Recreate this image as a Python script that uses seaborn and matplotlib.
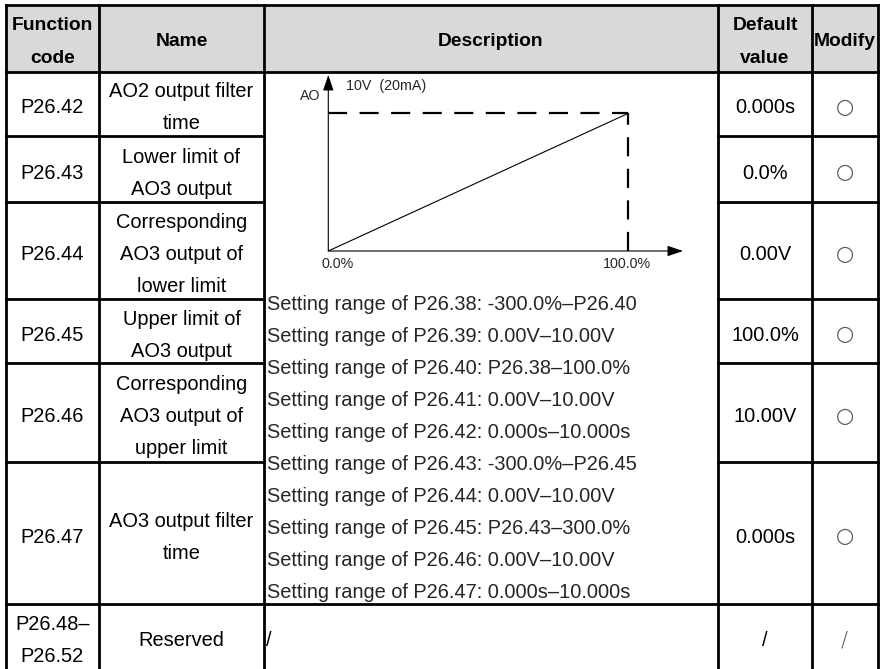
import matplotlib
matplotlib.use("Agg")
import matplotlib.pyplot as plt
import seaborn as sns
import pandas as pd
from matplotlib.patches import Rectangle

# ---------------- data ----------------
headers = ["Function\ncode", "Name", "Description", "Default\nvalue", "Modify"]
codes = ["P26.42", "P26.43", "P26.44", "P26.45", "P26.46", "P26.47", "P26.48–\nP26.52"]
names = ["AO2 output filter\ntime", "Lower limit of\nAO3 output",
         "Corresponding\nAO3 output of\nlower limit", "Upper limit of\nAO3 output",
         "Corresponding\nAO3 output of\nupper limit", "AO3 output filter\ntime", "Reserved"]
defaults = ["0.000s", "0.0%", "0.00V", "100.0%", "10.00V", "0.000s", "/"]
modify = ["○", "○", "○", "○", "○", "○", "/"]
desc_lines = [
    "Setting range of P26.38: -300.0%–P26.40",
    "Setting range of P26.39: 0.00V–10.00V",
    "Setting range of P26.40: P26.38–100.0%",
    "Setting range of P26.41: 0.00V–10.00V",
    "Setting range of P26.42: 0.000s–10.000s",
    "Setting range of P26.43: -300.0%–P26.45",
    "Setting range of P26.44: 0.00V–10.00V",
    "Setting range of P26.45: P26.43–300.0%",
    "Setting range of P26.46: 0.00V–10.00V",
    "Setting range of P26.47: 0.000s–10.000s",
]
reserved_desc = "/"
# chart data
x_pct = [0.0, 100.0]
ao_volt = [0.0, 10.0]
x_tick_labels = ["0.0%", "100.0%"]
y_label = "AO"
y_top_label = "10V  (20mA)"

# ---------------- style ----------------
sns.set_style("white")
plt.rcParams["font.family"] = ["Liberation Sans", "DejaVu Sans"]

W, H = 880, 669
fig = plt.figure(figsize=(W / 100, H / 100), dpi=100)
ax = fig.add_axes([0, 0, 1, 1])
ax.set_xlim(0, W)
ax.set_ylim(H, 0)
ax.axis("off")

# geometry (pixels)
cols = [6, 99, 264, 718, 812, 878]
top, head_bot = 5, 71.5
rows = [71.5, 136, 201.7, 298.5, 363.3, 461.7, 604, 669]
LW = 2.0
FS = 14.4      # body font size (pt)
HFS = 13.9     # header font size (pt)
LSP = 32.0     # line spacing (px)
ASC = 7.2      # half cap height (px)

# header background
ax.add_patch(Rectangle((cols[0], top), cols[-1] - cols[0], head_bot - top,
                       facecolor="#d9d9d9", edgecolor="none", zorder=0))

def hline(y, x0, x1):
    ax.plot([x0, x1], [y, y], color="black", lw=LW, solid_capstyle="projecting", zorder=3)

def vline(x, y0, y1):
    ax.plot([x, x], [y0, y1], color="black", lw=LW, solid_capstyle="projecting", zorder=3)

hline(top, cols[0], cols[-1])
hline(head_bot, cols[0], cols[-1])
for y in rows[1:-2]:
    hline(y, cols[0], cols[2])
    hline(y, cols[3], cols[5])
hline(rows[-2], cols[0], cols[-1])
for x in cols:
    vline(x, top, H + 2)

def cell_text(txt, xc, yc, ha="center", bold=False, fs=FS, color="black", lsp=LSP, **kw):
    lines = txt.split("\n")
    n = len(lines)
    for i, ln in enumerate(lines):
        yb = yc + ASC + (i - (n - 1) / 2) * lsp
        ax.text(xc, yb, ln, ha=ha, va="baseline", fontsize=fs, color=color,
                fontweight="bold" if bold else "normal", **kw)

# header
hc = (top + head_bot) / 2 + 1
for j, h in enumerate(headers):
    xc = (cols[j] + cols[j + 1]) / 2
    cell_text(h, xc, hc, bold=True, lsp=33, fs=HFS)

# body rows
for i in range(len(codes)):
    yc = (rows[i] + rows[i + 1]) / 2 + 2.5
    cell_text(codes[i], (cols[0] + cols[1]) / 2, yc)
    cell_text(names[i], (cols[1] + cols[2]) / 2, yc)
    cell_text(defaults[i], (cols[3] + cols[4]) / 2, yc)
    if modify[i] == "○":
        ax.text((cols[4] + cols[5]) / 2, yc + 1, modify[i], ha="center", va="center",
                fontsize=15, color="#555555", family=["DejaVu Sans"])
    else:
        ax.text((cols[4] + cols[5]) / 2 - 1, yc + 1, modify[i], ha="center", va="center",
                fontsize=15, color="#555555", fontweight="light", family=["DejaVu Sans"])

# description lines
for k, ln in enumerate(desc_lines):
    ax.text(267, 302.3 + ASC + k * 32.0, ln, ha="left", va="baseline", fontsize=FS)
cell_text(reserved_desc, 269, (rows[-2] + rows[-1]) / 2 + 2.5, ha="center")

# ---------------- embedded chart ----------------
ox, oy = 328.3, 251.0          # origin in pixels
px_x = 3.0                     # px per percent
px_y = 13.77                   # px per volt
right_px, top_px = 692.0, 70.0
iax = fig.add_axes([ox / W, (H - oy) / H, (right_px - ox) / W, (oy - top_px) / H])
iax.set_xlim(0, (right_px - ox) / px_x)
iax.set_ylim(0, (oy - top_px) / px_y)
iax.patch.set_alpha(0)
for s in iax.spines.values():
    s.set_visible(False)
iax.set_xticks([])
iax.set_yticks([])

df = pd.DataFrame({"pct": x_pct, "ao": ao_volt})
sns.lineplot(data=df, x="pct", y="ao", ax=iax, color="black", lw=0.8)
iax.set_xlabel("")
iax.set_ylabel("")

dash = dict(color="black", lw=1.6, linestyle=(0, (8.6, 5.6)))
iax.plot([x_pct[0], x_pct[-1]], [ao_volt[-1], ao_volt[-1]], **dash)
iax.plot([x_pct[-1], x_pct[-1]], [ao_volt[0], ao_volt[-1]], **dash)

arrow = dict(arrowstyle="-|>,head_length=0.5,head_width=0.17", color="black",
             lw=0.8, mutation_scale=19, shrinkA=0, shrinkB=0)
iax.annotate("", xy=(0, (oy - 75) / px_y), xytext=(0, 0), arrowprops=arrow, annotation_clip=False)
iax.annotate("", xy=((683 - ox) / px_x, 0), xytext=(0, 0), arrowprops=arrow, annotation_clip=False)

CFS = 10.3
ax.text(320, 100.1, y_label, ha="right", va="baseline", fontsize=CFS)
ax.text(346, 90.1, y_top_label, ha="left", va="baseline", fontsize=CFS)
ax.text(322, 268.4, x_tick_labels[0], ha="left", va="baseline", fontsize=CFS)
ax.text(603, 268.4, x_tick_labels[1], ha="left", va="baseline", fontsize=CFS)

fig.savefig("out.png", dpi=100)
